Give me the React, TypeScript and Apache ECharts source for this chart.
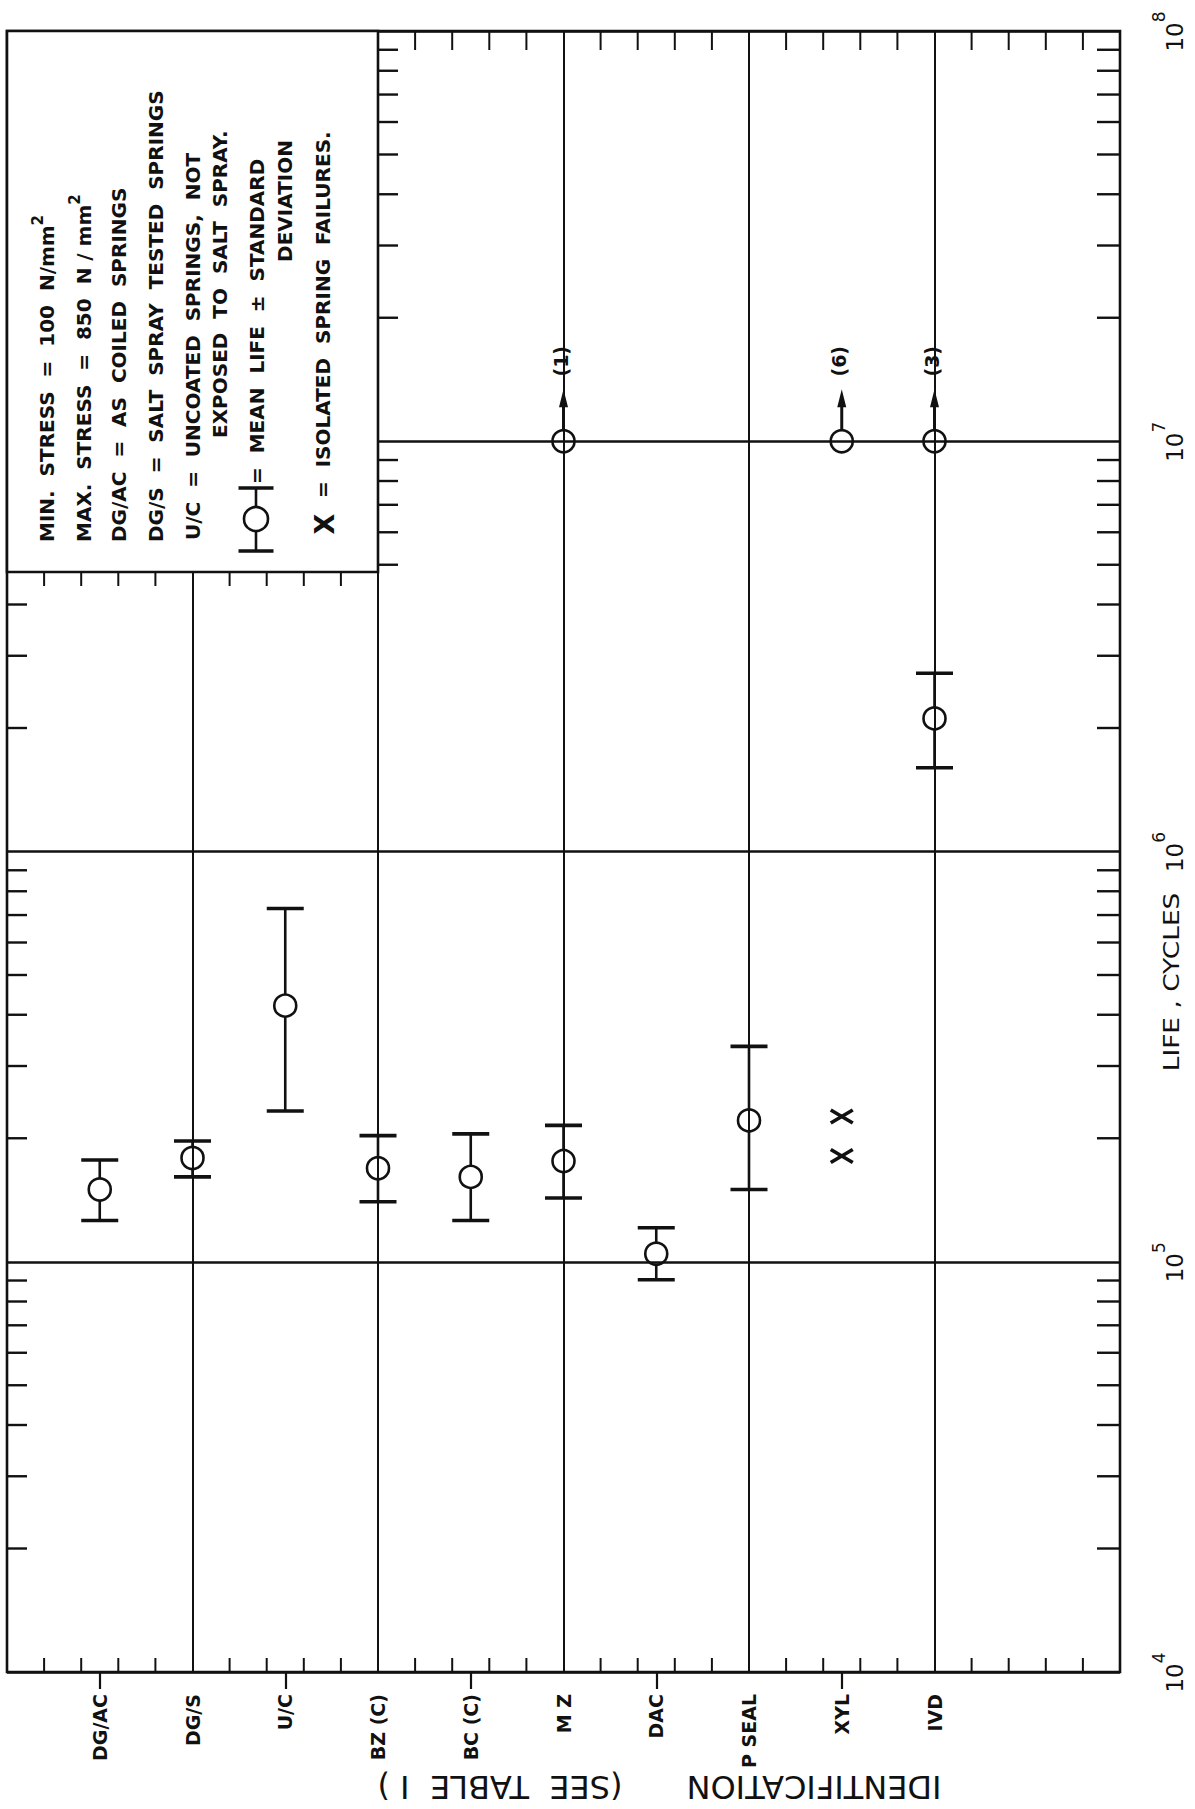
import React, { useEffect, useRef } from 'react';
import * as echarts from 'echarts';

// ---------------- data ----------------
// category slots along the horizontal axis (blank slots pad the graph paper)
const CATEGORY_LABELS = ['', 'DG/AC', 'DG/S', 'U/C', 'BZ (C)', 'BC (C)', 'M Z', 'DAC', 'P SEAL', 'XYL', 'IVD', '', ''];

// mean life ± standard deviation (cycles)
const MEAN_IDS = ['DG/AC', 'DG/S', 'U/C', 'BZ (C)', 'BC (C)', 'M Z', 'DAC', 'P SEAL', 'IVD'];
const MEAN_LIFE = [1.5e5, 1.79e5, 4.21e5, 1.69e5, 1.61e5, 1.76e5, 1.046e5, 2.21e5, 2.11e6];
const LIFE_MINUS_SD = [1.26e5, 1.61e5, 2.33e5, 1.4e5, 1.26e5, 1.43e5, 9.04e4, 1.5e5, 1.6e6];
const LIFE_PLUS_SD = [1.77e5, 1.97e5, 7.26e5, 2.03e5, 2.05e5, 2.15e5, 1.21e5, 3.35e5, 2.72e6];

// unbroken springs (run-outs) at 10^7 cycles, with number of springs
const RUNOUT_IDS = ['M Z', 'XYL', 'IVD'];
const RUNOUT_LIFE = [1e7, 1e7, 1e7];
const RUNOUT_COUNTS = ['(1)', '(6)', '(3)'];

// isolated spring failures
const FAILURE_IDS = ['XYL', 'XYL'];
const FAILURE_LIFE = [2.26e5, 1.81e5];

// axis structure of the log graph paper
const Y_MIN = 1e4;
const Y_MAX = 1e8;
const DECADES = [1e4, 1e5, 1e6, 1e7];
const LOG_MINOR_MULTIPLIERS = [2, 3, 4, 5, 6, 7, 8, 9];
const X_PANELS = [0, 2, 4, 6, 8, 10];
const X_MINOR_STEPS = [0.4, 0.8, 1.2, 1.6];

// ---------------- layout ----------------
const CHART_W = 1195;
const CHART_H = 1809;
const PLOT_LEFT = 7;
const PLOT_TOP = 31;
const PLOT_RIGHT = 1120;
const PLOT_BOTTOM = 1672;
const LEGEND_RIGHT = PLOT_LEFT + ((PLOT_RIGHT - PLOT_LEFT) * 4) / 12;
const LEGEND_BOTTOM = 572;
const INK = '#111111';
const FONT = 'DejaVu Sans';
const LEGEND_FONT_SIZE = 20;

const yMinorValues = DECADES.flatMap((d) => LOG_MINOR_MULTIPLIERS.map((m) => m * d));
const xMinorValues = X_PANELS.flatMap((p) => X_MINOR_STEPS.map((s) => p + s));

const catIndex = (id: string) => CATEGORY_LABELS.indexOf(id);

const supRich = {
  s: { fontSize: 15, fontFamily: FONT, fontWeight: 'bold', fill: INK, color: INK, verticalAlign: 'top', lineHeight: 15 },
  h: { fontSize: 4, lineHeight: 34 },
};

function legendText(text: string, x: number, y: number, align = 'left', size = LEGEND_FONT_SIZE) {
  return {
    type: 'text',
    x,
    y,
    rotation: Math.PI / 2,
    z: 60,
    style: {
      text,
      fontSize: size,
      fontFamily: FONT,
      fontWeight: 'bold',
      fill: INK,
      align,
      textAlign: align,
      verticalAlign: 'middle',
      textVerticalAlign: 'middle',
      rich: supRich,
    },
  };
}

function buildOption() {
  const line = (x1: number, y1: number, x2: number, y2: number, w: number) => ({
    type: 'line',
    shape: { x1, y1, x2, y2 },
    style: { stroke: INK, lineWidth: w },
  });

  const legendSymX = 256;
  const legendSymY = 519;

  const centeredText = (text: string, x: number, y: number, rotation: number, size: number, stretch = 1) => ({
    type: 'text',
    x,
    y,
    rotation,
    scaleX: stretch,
    z: 60,
    style: {
      text,
      fontSize: size,
      fontFamily: FONT,
      fill: INK,
      align: 'center',
      textAlign: 'center',
      verticalAlign: 'middle',
      textVerticalAlign: 'middle',
    },
  });

  const graphic = [
    {
      type: 'rect',
      z: 50,
      shape: { x: PLOT_LEFT, y: PLOT_TOP, width: LEGEND_RIGHT - PLOT_LEFT, height: LEGEND_BOTTOM - PLOT_TOP },
      style: { fill: '#ffffff', stroke: INK, lineWidth: 2.6 },
    },
    legendText('MIN.  STRESS  =  100  N/mm{s|2}{h| }', 47, 542),
    legendText('MAX.  STRESS  =  850  N / mm{s|2}{h| }', 84, 542),
    legendText('DG/AC  =  AS  COILED  SPRINGS', 119, 542),
    legendText('DG/S  =  SALT  SPRAY  TESTED  SPRINGS', 156, 542),
    legendText('U/C  =  UNCOATED  SPRINGS,  NOT', 193, 540),
    legendText('EXPOSED  TO  SALT  SPRAY.', 220, 438),
    legendText('=  MEAN  LIFE  \u00b1  STANDARD', 257, 484),
    legendText('DEVIATION', 285, 140, 'right'),
    legendText('X', 324, 524, 'center', 27),
    legendText('=  ISOLATED  SPRING  FAILURES.', 323, 498),
    // legend symbol: mean life ± standard deviation
    { ...line(legendSymX, legendSymY - 31, legendSymX, legendSymY - 12, 2.6), z: 60 },
    { ...line(legendSymX, legendSymY + 12, legendSymX, legendSymY + 32, 2.6), z: 60 },
    { ...line(legendSymX - 17.5, legendSymY - 31, legendSymX + 17.5, legendSymY - 31, 3.4), z: 60 },
    { ...line(legendSymX - 17.5, legendSymY + 32, legendSymX + 17.5, legendSymY + 32, 3.4), z: 60 },
    {
      type: 'circle',
      z: 60,
      shape: { cx: legendSymX, cy: legendSymY, r: 12 },
      style: { fill: 'none', stroke: INK, lineWidth: 2.6 },
    },
    // value-axis title
    centeredText('LIFE , CYCLES', 1171, 982, Math.PI / 2, 22, 1.2),
    // category-axis title (printed upside-down on the original sheet)
    centeredText('IDENTIFICATION', 814, 1787, Math.PI, 32),
    centeredText('(SEE  TABLE  I )', 500, 1787, Math.PI, 32),
  ];

  return {
    animation: false,
    backgroundColor: '#ffffff',
    grid: {
      left: PLOT_LEFT,
      top: PLOT_TOP,
      width: PLOT_RIGHT - PLOT_LEFT,
      height: PLOT_BOTTOM - PLOT_TOP,
      show: true,
      borderColor: INK,
      borderWidth: 2.6,
      backgroundColor: 'transparent',
    },
    xAxis: [
      {
        type: 'category',
        data: CATEGORY_LABELS,
        boundaryGap: false,
        position: 'bottom',
        axisLine: { show: false },
        axisTick: {
          show: true,
          inside: false,
          length: 17,
          interval: (i: number) => i % 2 === 1 && CATEGORY_LABELS[i] !== '',
          lineStyle: { color: INK, width: 2.2 },
        },
        axisLabel: {
          interval: 0,
          rotate: 90,
          margin: 22,
          fontFamily: FONT,
          fontWeight: 'bold',
          fontSize: 19,
          color: INK,
        },
        splitLine: { show: false },
      },
      {
        type: 'value',
        min: 0,
        max: 12,
        interval: 2,
        position: 'bottom',
        axisLine: { show: false },
        axisTick: { show: false },
        axisLabel: { show: false },
        splitLine: { show: true, lineStyle: { color: INK, width: 2 } },
      },
    ],
    yAxis: [
      {
        type: 'log',
        logBase: 10,
        min: Y_MIN,
        max: Y_MAX,
        splitNumber: 4,
        position: 'right',
        axisLine: { show: false },
        axisTick: { show: false },
        splitLine: { show: true, lineStyle: { color: INK, width: 2.6 } },
        axisLabel: {
          rotate: 90,
          margin: 30,
          formatter: (v: number) => `{b|10}{s|${Math.round(Math.log10(v))}}{h| }`,
          rich: {
            b: { fontSize: 23, fontFamily: FONT, color: INK, verticalAlign: 'bottom', lineHeight: 23 },
            s: { fontSize: 17, fontFamily: FONT, color: INK, verticalAlign: 'top', lineHeight: 17 },
            h: { fontSize: 4, lineHeight: 36 },
          },
        },
      },
    ],
    graphic,
    series: [
      {
        // log-paper minor ticks on left (or legend edge) and right borders
        type: 'custom',
        silent: true,
        xAxisIndex: 1,
        yAxisIndex: 0,
        data: yMinorValues.map((v) => [0, v]),
        renderItem: (params: any, api: any) => {
          const cs = params.coordSys;
          const py = api.coord([0, api.value(1)])[1];
          const lx = py < LEGEND_BOTTOM ? LEGEND_RIGHT : cs.x;
          const rx = cs.x + cs.width;
          return {
            type: 'group',
            children: [line(lx, py, lx + 20, py, 2.4), line(rx, py, rx - 23, py, 2.4)],
          };
        },
      },
      {
        // graph-paper minor ticks on bottom and top (or legend bottom) borders
        type: 'custom',
        silent: true,
        xAxisIndex: 1,
        yAxisIndex: 0,
        data: xMinorValues.map((v) => [v, Y_MIN]),
        renderItem: (params: any, api: any) => {
          const cs = params.coordSys;
          const px = api.coord([api.value(0), Y_MIN])[0];
          const by = cs.y + cs.height;
          const top = px < LEGEND_RIGHT ? line(px, LEGEND_BOTTOM, px, LEGEND_BOTTOM + 14, 2) : line(px, cs.y, px, cs.y + 19, 2);
          return { type: 'group', children: [line(px, by, px, by - 14, 2), top] };
        },
      },
      {
        // mean life ± standard deviation
        type: 'custom',
        silent: true,
        xAxisIndex: 0,
        yAxisIndex: 0,
        encode: { x: 0, y: [1, 2, 3] },
        data: MEAN_IDS.map((id, i) => [catIndex(id), MEAN_LIFE[i], LIFE_MINUS_SD[i], LIFE_PLUS_SD[i]]),
        renderItem: (params: any, api: any) => {
          const xi = api.value(0);
          const c = api.coord([xi, api.value(1)]);
          const cx = c[0];
          const cy = c[1];
          const yLo = api.coord([xi, api.value(2)])[1];
          const yHi = api.coord([xi, api.value(3)])[1];
          const r = 11;
          const cap = 18.5;
          const children: any[] = [];
          if (yHi < cy - r) children.push(line(cx, yHi, cx, cy - r, 2.6));
          if (yLo > cy + r) children.push(line(cx, cy + r, cx, yLo, 2.6));
          children.push(line(cx - cap, yHi, cx + cap, yHi, 3.6));
          children.push(line(cx - cap, yLo, cx + cap, yLo, 3.6));
          children.push({ type: 'circle', shape: { cx, cy, r }, style: { fill: 'none', stroke: INK, lineWidth: 2.6 } });
          return { type: 'group', children };
        },
      },
      {
        // run-outs (unbroken at 10^7) with arrow and count
        type: 'custom',
        silent: true,
        xAxisIndex: 0,
        yAxisIndex: 0,
        encode: { x: 0, y: 1 },
        data: RUNOUT_IDS.map((id, i) => [catIndex(id), RUNOUT_LIFE[i]]),
        renderItem: (params: any, api: any) => {
          const c = api.coord([api.value(0), api.value(1)]);
          const cx = c[0];
          const cy = c[1];
          const r = 11;
          const tip = cy - 52;
          return {
            type: 'group',
            children: [
              { type: 'circle', shape: { cx, cy, r }, style: { fill: 'none', stroke: INK, lineWidth: 2.6 } },
              line(cx, cy - r, cx, tip + 14, 3),
              { type: 'polygon', shape: { points: [[cx - 4.5, tip + 18], [cx + 4.5, tip + 18], [cx, tip]] }, style: { fill: INK } },
              {
                type: 'text',
                x: cx - 3,
                y: cy - 80,
                rotation: Math.PI / 2,
                style: {
                  text: RUNOUT_COUNTS[params.dataIndex],
                  fontSize: 19,
                  fontFamily: FONT,
                  fontWeight: 'bold',
                  fill: INK,
                  align: 'center',
                  textAlign: 'center',
                  verticalAlign: 'middle',
                  textVerticalAlign: 'middle',
                },
              },
            ],
          };
        },
      },
      {
        // isolated spring failures
        type: 'custom',
        silent: true,
        xAxisIndex: 0,
        yAxisIndex: 0,
        encode: { x: 0, y: 1 },
        data: FAILURE_IDS.map((id, i) => [catIndex(id), FAILURE_LIFE[i]]),
        renderItem: (params: any, api: any) => {
          const c = api.coord([api.value(0), api.value(1)]);
          const cx = c[0];
          const cy = c[1];
          return {
            type: 'group',
            children: [line(cx - 11, cy - 6.5, cx + 11, cy + 6.5, 3.6), line(cx - 11, cy + 6.5, cx + 11, cy - 6.5, 3.6)],
          };
        },
      },
    ],
  };
}

export default function App() {
  const ref = useRef<HTMLDivElement>(null);
  useEffect(() => {
    if (!ref.current) return;
    const chart = echarts.init(ref.current, undefined, { renderer: 'svg', width: CHART_W, height: CHART_H });
    chart.setOption(buildOption() as any);
    return () => chart.dispose();
  }, []);
  return (
    <div
      ref={ref}
      style={{ position: 'absolute', left: 0, top: 0, width: CHART_W, height: CHART_H, background: '#ffffff' }}
    />
  );
}
